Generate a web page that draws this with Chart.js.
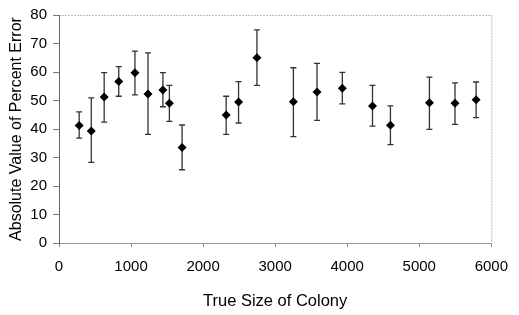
<!DOCTYPE html>
<html>
<head>
<meta charset="utf-8">
<script src="https://cdn.jsdelivr.net/npm/chart.js@4/dist/chart.umd.min.js"></script>
<style>
  html, body { margin: 0; padding: 0; background: #fff; }
  #wrap { width: 519px; height: 315px; }
</style>
</head>
<body>
<div id="wrap"><canvas id="chart"></canvas></div>
<script>
// Data
const colonySize = [280, 448, 627, 829, 1054, 1235, 1442, 1532, 1708, 2320,
  2492, 2747, 3253, 3581, 3932, 4351, 4600, 5141, 5496, 5789];
const percentError = [41.2, 39.3, 51.2, 56.7, 59.7, 52.3, 53.7, 49.0, 33.5, 44.9,
  49.5, 65.0, 49.6, 53.0, 54.3, 48.1, 41.3, 49.2, 49.0, 50.3];
const errorTop = [46.0, 50.9, 59.8, 61.9, 67.3, 66.7, 59.8, 55.3, 41.4, 51.5,
  56.6, 74.8, 61.5, 63.0, 59.9, 55.3, 48.1, 58.2, 56.2, 56.5];
const errorBottom = [36.8, 28.3, 42.4, 51.5, 52.0, 38.1, 47.8, 42.7, 25.7, 38.1,
  42.1, 55.3, 37.3, 43.0, 48.8, 41.0, 34.5, 39.9, 41.6, 44.0];

const xTicks = [0, 1000, 2000, 3000, 4000, 5000, 6000];
const yTicks = [0, 10, 20, 30, 40, 50, 60, 70, 80];

const points = colonySize.map((x, i) => ({ x: x, y: percentError[i] }));

// error bars with caps, drawn under the markers
const errorBars = {
  id: 'errorBars',
  beforeDatasetsDraw(chart) {
    const { ctx, scales: { x, y } } = chart;
    ctx.save();
    ctx.strokeStyle = '#333';
    ctx.lineWidth = 1.3;
    colonySize.forEach((v, i) => {
      const px = x.getPixelForValue(v);
      const top = y.getPixelForValue(errorTop[i]);
      const bot = y.getPixelForValue(errorBottom[i]);
      ctx.beginPath();
      ctx.moveTo(px, top); ctx.lineTo(px, bot);
      ctx.moveTo(px - 3, top); ctx.lineTo(px + 3, top);
      ctx.moveTo(px - 3, bot); ctx.lineTo(px + 3, bot);
      ctx.stroke();
    });
    ctx.restore();
  }
};

// light border on top and right of the plot
const frame = {
  id: 'frame',
  beforeDraw(chart) {
    const { ctx, chartArea: a } = chart;
    ctx.save();
    ctx.strokeStyle = '#bbb';
    ctx.lineWidth = 1;
    ctx.setLineDash([2, 1]);
    ctx.beginPath();
    ctx.moveTo(a.left, a.top + 0.5); ctx.lineTo(a.right + 0.5, a.top + 0.5);
    ctx.lineTo(a.right + 0.5, a.bottom);
    ctx.stroke();
    ctx.restore();
  }
};

Chart.defaults.font.family = '"Liberation Sans", Arial, sans-serif';
Chart.defaults.color = '#000';

new Chart(document.getElementById('chart'), {
  type: 'scatter',
  data: {
    datasets: [{
      data: points,
      pointStyle: 'rectRot',
      pointRadius: 4.5,
      backgroundColor: '#000',
      borderColor: '#000',
      borderWidth: 0
    }]
  },
  options: {
    responsive: true,
    maintainAspectRatio: false,
    animation: false,
    layout: { padding: { left: 0, right: 16, top: 11, bottom: 0 } },
    plugins: { legend: { display: false }, tooltip: { enabled: false } },
    scales: {
      x: {
        type: 'linear',
        min: 0, max: 6000,
        afterBuildTicks: axis => { axis.ticks = xTicks.map(v => ({ value: v })); },
        afterFit: axis => { axis.height = 72; },
        grid: { drawOnChartArea: false, drawTicks: true, tickLength: 4, color: '#888' },
        border: { color: '#999', width: 1 },
        ticks: { padding: 11, font: { size: 15 }, maxRotation: 0, callback: v => String(v) },
        title: { display: true, text: 'True Size of Colony', font: { size: 16.5 }, padding: { top: 11, bottom: 4 } }
      },
      y: {
        min: 0, max: 80,
        afterBuildTicks: axis => { axis.ticks = yTicks.map(v => ({ value: v })); },
        afterFit: axis => { axis.width = 59; },
        grid: { drawOnChartArea: false, drawTicks: true, tickLength: 6, color: '#777' },
        border: { color: '#666', width: 1 },
        ticks: { padding: 6, font: { size: 15 }, callback: v => String(v) },
        title: { display: true, text: 'Absolute Value of Percent Error', font: { size: 16 }, padding: { top: 7, bottom: 0 } }
      }
    }
  },
  plugins: [errorBars, frame]
});
</script>
</body>
</html>
